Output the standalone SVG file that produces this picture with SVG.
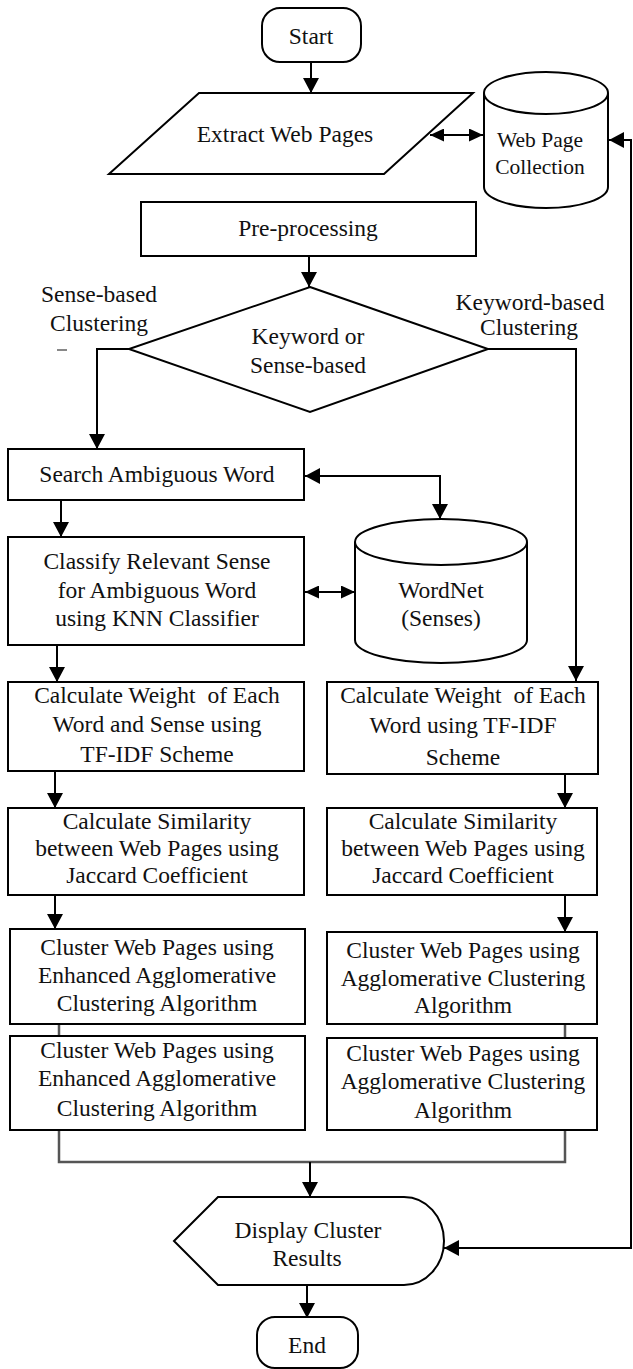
<svg xmlns="http://www.w3.org/2000/svg" width="633" height="1369" viewBox="0 0 633 1369">
<style>
.s{fill:#fff;stroke:#000;stroke-width:2}
.c{fill:none;stroke:#000;stroke-width:2}
.g{fill:none;stroke:#555;stroke-width:2.5}
text{font-family:"Liberation Serif","Times New Roman",serif;font-size:23.5px;fill:#111;text-anchor:middle}
.sm{font-size:21.5px}
</style>
<defs>
<marker id="a" viewBox="0 0 15 16" refX="15" refY="8" markerWidth="15" markerHeight="16" markerUnits="userSpaceOnUse" orient="auto-start-reverse"><path d="M0,0 L15,8 L0,16 Z" fill="#000"/></marker>
<marker id="b" viewBox="0 0 14 13" refX="14" refY="6.5" markerWidth="14" markerHeight="13" markerUnits="userSpaceOnUse" orient="auto-start-reverse"><path d="M0,0 L14,6.5 L0,13 Z" fill="#000"/></marker>
</defs>
<rect width="633" height="1369" fill="#fff"/>
<g id="connectors">
<path class="c" d="M311,62 L311,93" marker-end="url(#a)"/>
<path class="c" d="M430,135 L483,135" marker-start="url(#b)" marker-end="url(#b)"/>
<path class="c" d="M309,256 L309,287" marker-end="url(#a)"/>
<path class="c" d="M129,349 L97,349 L97,449" marker-end="url(#a)"/>
<path class="c" d="M488,349 L576,349 L576,681" marker-end="url(#a)"/>
<path class="c" d="M305,476 L440,476 L440,519" marker-start="url(#a)" marker-end="url(#a)"/>
<path class="c" d="M61,500 L61,537" marker-end="url(#a)"/>
<path class="c" d="M305,592 L355,592" marker-start="url(#b)" marker-end="url(#b)"/>
<path class="c" d="M57,645 L57,682" marker-end="url(#a)"/>
<path class="c" d="M55,771 L55,808" marker-end="url(#a)"/>
<path class="c" d="M565,774 L565,808" marker-end="url(#a)"/>
<path class="c" d="M55,895 L55,929" marker-end="url(#a)"/>
<path class="c" d="M565,895 L565,932" marker-end="url(#a)"/>
<path class="g" stroke-width="1.5" d="M59,1024 L59,1036 M565,1024 L565,1038"/>
<path class="g" d="M59,1130 L59,1162 L565,1162 L565,1130"/>
<path class="c" d="M310,1162 L310,1197" marker-end="url(#a)"/>
<path class="c" d="M307,1286 L307,1318" marker-end="url(#a)"/>
<path class="c" d="M609,140 L631,140 L631,1248 L444,1248" marker-start="url(#a)" marker-end="url(#a)"/>
<path d="M57,350 L67,350" stroke="#888" stroke-width="2"/>
</g>
<g id="start">
<rect class="s" x="262" y="8" width="99" height="54" rx="18"/>
<text x="311" y="44">Start</text>
</g>
<g id="extract">
<path class="s" d="M199,93 L473,93 L384,174 L109,174 Z"/>
<text x="285" y="142">Extract Web Pages</text>
</g>
<g id="webcollection">
<path class="s" d="M484,93 A62,21 0 0 1 608,93 L608,187 A62,21 0 0 1 484,187 Z"/>
<path class="c" d="M484,93 A62,21 0 0 0 608,93"/>
<text class="sm" x="540" y="147">Web Page</text>
<text class="sm" x="540" y="174">Collection</text>
</g>
<g id="preprocessing">
<rect class="s" x="141" y="202" width="335" height="54"/>
<text x="308" y="236">Pre-processing</text>
</g>
<g id="decision">
<path class="s" d="M310,287 L488,349 L310,412 L129,349 Z"/>
<text x="308" y="344">Keyword or</text>
<text x="308" y="373">Sense-based</text>
</g>
<g id="label-sense">
<text x="99" y="302">Sense-based</text>
<text x="99" y="331">Clustering</text>
</g>
<g id="label-keyword">
<text x="530" y="310">Keyword-based</text>
<text x="529" y="335">Clustering</text>
</g>
<g id="search">
<rect class="s" x="8" y="449" width="296" height="51"/>
<text x="157" y="482">Search Ambiguous Word</text>
</g>
<g id="classify">
<rect class="s" x="8" y="537" width="296" height="108"/>
<text x="157" y="569">Classify Relevant Sense</text>
<text x="157" y="598">for Ambiguous Word</text>
<text x="157" y="626">using KNN Classifier</text>
</g>
<g id="wordnet">
<path class="s" d="M355,542 A86,23 0 0 1 527,542 L527,640 A86,23 0 0 1 355,640 Z"/>
<path class="c" d="M355,542 A86,23 0 0 0 527,542"/>
<text x="441" y="598">WordNet</text>
<text x="441" y="626">(Senses)</text>
</g>
<g id="weight-sense">
<rect class="s" x="8" y="682" width="296" height="89"/>
<text x="157" y="703" xml:space="preserve">Calculate Weight  of Each</text>
<text x="157" y="732">Word and Sense using</text>
<text x="157" y="762">TF-IDF Scheme</text>
</g>
<g id="weight-keyword">
<rect class="s" x="327" y="682" width="271" height="92"/>
<text x="463" y="703" xml:space="preserve">Calculate Weight  of Each</text>
<text x="463" y="733">Word using TF-IDF</text>
<text x="463" y="765">Scheme</text>
</g>
<g id="similarity-sense">
<rect class="s" x="8" y="808" width="296" height="87"/>
<text x="157" y="829">Calculate Similarity</text>
<text x="157" y="856">between Web Pages using</text>
<text x="157" y="883">Jaccard Coefficient</text>
</g>
<g id="similarity-keyword">
<rect class="s" x="327" y="808" width="270" height="87"/>
<text x="463" y="829">Calculate Similarity</text>
<text x="463" y="856">between Web Pages using</text>
<text x="463" y="883">Jaccard Coefficient</text>
</g>
<g id="cluster-sense-1">
<rect class="s" x="10" y="929" width="295" height="95"/>
<text x="157" y="955">Cluster Web Pages using</text>
<text x="157" y="983">Enhanced Agglomerative</text>
<text x="157" y="1011">Clustering Algorithm</text>
</g>
<g id="cluster-keyword-1">
<rect class="s" x="327" y="932" width="270" height="92"/>
<text x="463" y="958">Cluster Web Pages using</text>
<text x="463" y="986">Agglomerative Clustering</text>
<text x="463" y="1013">Algorithm</text>
</g>
<g id="cluster-sense-2">
<rect class="s" x="10" y="1036" width="295" height="94"/>
<text x="157" y="1058">Cluster Web Pages using</text>
<text x="157" y="1086">Enhanced Agglomerative</text>
<text x="157" y="1116">Clustering Algorithm</text>
</g>
<g id="cluster-keyword-2">
<rect class="s" x="327" y="1038" width="270" height="92"/>
<text x="463" y="1061">Cluster Web Pages using</text>
<text x="463" y="1089">Agglomerative Clustering</text>
<text x="463" y="1118">Algorithm</text>
</g>
<g id="display">
<path class="s" d="M174,1241 L218,1197 L404,1197 A40,44 0 0 1 404,1285 L218,1285 Z"/>
<text x="308" y="1238">Display Cluster</text>
<text x="307" y="1266">Results</text>
</g>
<g id="end">
<rect class="s" x="257" y="1317" width="101" height="51" rx="18"/>
<text x="307" y="1353">End</text>
</g>
</svg>
